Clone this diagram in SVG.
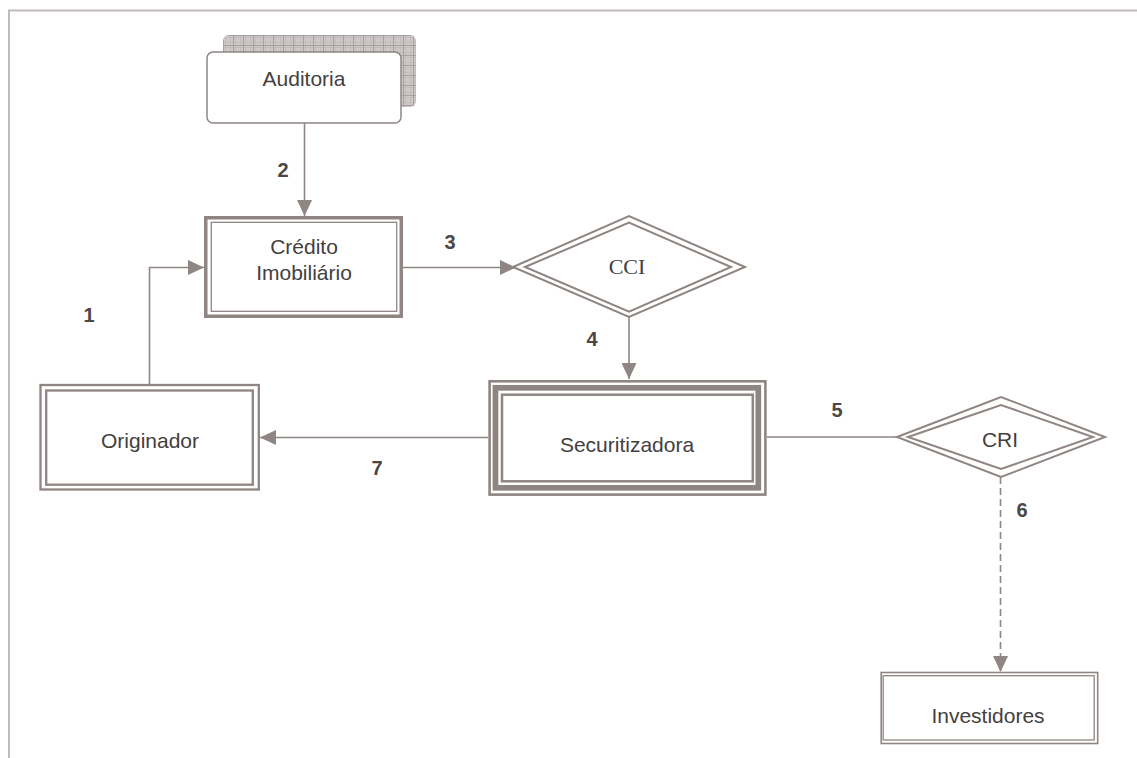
<svg xmlns="http://www.w3.org/2000/svg" width="1137" height="758" viewBox="0 0 1137 758">
<defs>
<pattern id="grid" x="223" y="35" width="10" height="10" patternUnits="userSpaceOnUse">
<rect width="10" height="10" fill="#cfc8c8"/>
<path d="M0 2.5H10M0 7.5H10M2.5 0V10M7.5 0V10" stroke="#c2baba" stroke-width="0.8"/>
<path d="M0 0.5H10M0.5 0V10" stroke="#a99f9f" stroke-width="1"/>
</pattern>
<marker id="ah" viewBox="0 0 16 15" refX="16" refY="7.5" markerWidth="16" markerHeight="15" markerUnits="userSpaceOnUse" orient="auto">
<path d="M0 0L16 7.5L0 15Z" fill="#8f8582"/>
</marker>
</defs>
<style>
.ln{fill:none;stroke:#8f8582;stroke-width:1.6}
.bx{fill:none;stroke:#8f8582}
.t{font-family:"Liberation Sans",Arial,sans-serif;font-size:21px;fill:#444040;text-anchor:middle}
.s{font-family:"Liberation Serif","Times New Roman",serif;font-size:22px;fill:#444040;text-anchor:middle}
.n{font-family:"Liberation Sans",Arial,sans-serif;font-size:20px;font-weight:bold;fill:#4d4646;text-anchor:middle}
</style>
<rect width="1137" height="758" fill="#ffffff"/>
<polyline points="9,758 9,10.5 1137,10.5" fill="none" stroke="#c2baba" stroke-width="2"/>

<g id="connectors">
<line class="ln" x1="304.5" y1="123" x2="304.5" y2="216" marker-end="url(#ah)"/>
<polyline class="ln" points="149.5,384 149.5,267.5 204,267.5" marker-end="url(#ah)"/>
<line class="ln" x1="403" y1="267.5" x2="516" y2="267.5" marker-end="url(#ah)"/>
<line class="ln" x1="629" y1="317" x2="629" y2="379" marker-end="url(#ah)"/>
<line class="ln" x1="488" y1="437.5" x2="260" y2="437.5" marker-end="url(#ah)"/>
<line class="ln" x1="767" y1="437" x2="897" y2="437"/>
<line class="ln" x1="1000.5" y1="477" x2="1000.5" y2="672" stroke-width="2" stroke-dasharray="7 4" marker-end="url(#ah)"/>
</g>

<g id="labels">
<text class="n" x="89" y="322">1</text>
<text class="n" x="283" y="177">2</text>
<text class="n" x="450" y="249">3</text>
<text class="n" x="592" y="346">4</text>
<text class="n" x="837" y="417">5</text>
<text class="n" x="1022" y="517">6</text>
<text class="n" x="377" y="475">7</text>
</g>

<g id="auditoria">
<rect x="223" y="35" width="193" height="72" rx="6" fill="url(#grid)"/>
<rect x="207" y="52" width="194" height="71" rx="6" fill="#ffffff" stroke="#8f8582" stroke-width="1.5"/>
<text class="t" x="304" y="86">Auditoria</text>
</g>

<g id="credito">
<rect x="205.75" y="217.75" width="195.5" height="98.5" fill="#ffffff" stroke="#8f8582" stroke-width="3.5"/>
<rect class="bx" x="211.3" y="222.3" width="185.4" height="89" stroke-width="1.3"/>
<text class="t" x="304" y="254">Crédito</text>
<text class="t" x="304" y="280">Imobiliário</text>
</g>

<g id="cci">
<polygon points="513,267 629,216 745,267 629,317" fill="#ffffff" stroke="#8f8582" stroke-width="2"/>
<polygon class="bx" points="525,267 629,222.7 731,267 629,311.7" stroke-width="2"/>
<text class="s" x="627" y="274">CCI</text>
</g>

<g id="securitizadora">
<rect x="489.6" y="381.3" width="275.8" height="113.3" fill="#ffffff" stroke="#8f8582" stroke-width="2.6"/>
<rect class="bx" x="495.5" y="387.8" width="262.8" height="100" stroke-width="5.7"/>
<rect class="bx" x="502" y="394.7" width="250.8" height="86.6" stroke-width="2.5"/>
<text class="t" x="627" y="452" fill="#555050">Securitizadora</text>
</g>

<g id="originador">
<rect x="40.5" y="385" width="218.3" height="104.5" fill="#ffffff" stroke="#8f8582" stroke-width="2.3"/>
<rect class="bx" x="46.2" y="390.5" width="206.6" height="94.2" stroke-width="2.3"/>
<text class="t" x="150" y="448">Originador</text>
</g>

<g id="cri">
<polygon points="897,437 1001,397 1105,437 1001,477" fill="#ffffff" stroke="#8f8582" stroke-width="2"/>
<polygon class="bx" points="908,437 1001,405 1093,437 1001,469" stroke-width="2"/>
<text class="t" x="1000" y="447">CRI</text>
</g>

<g id="investidores">
<rect x="881.2" y="672.5" width="216.5" height="71" fill="#ffffff" stroke="#8f8582" stroke-width="1.6"/>
<rect class="bx" x="883.2" y="675.7" width="211" height="64.3" stroke-width="1.3"/>
<text class="t" x="988" y="723">Investidores</text>
</g>
</svg>
